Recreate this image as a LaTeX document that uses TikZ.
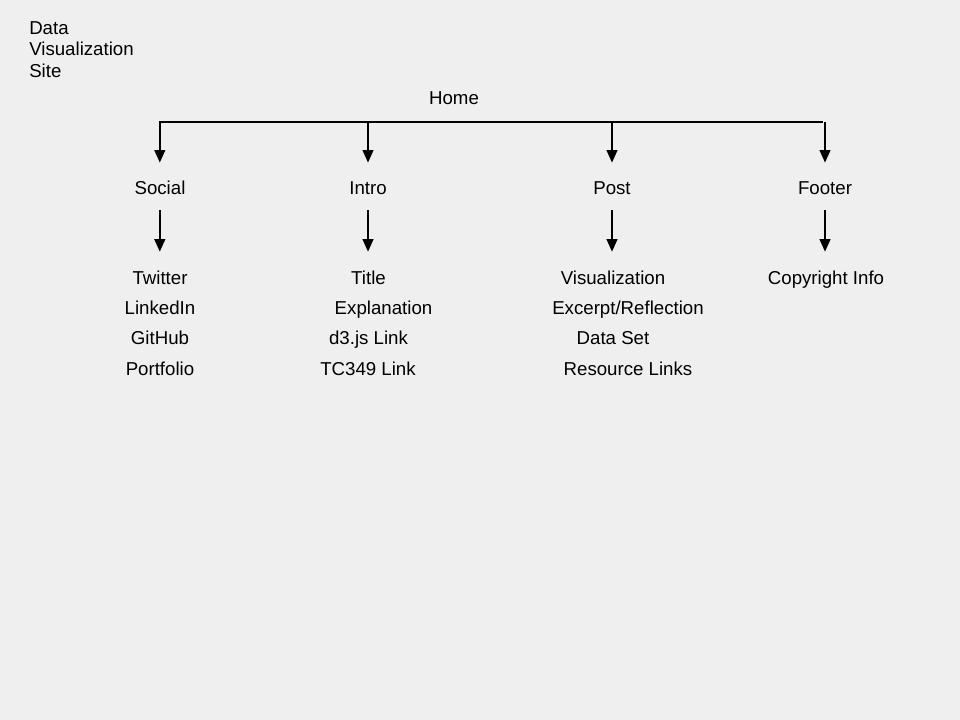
\documentclass[tikz,border=0pt]{standalone}
\usepackage{fontspec}
\setmainfont{Liberation Sans}
\usetikzlibrary{arrows.meta}
\definecolor{bg}{RGB}{239,239,239}
\begin{document}
\begin{tikzpicture}[x=0.75pt,y=-0.75pt,
  lbl/.style={font=\fontsize{14pt}{16.2pt}\selectfont, text height=10pt, text depth=3pt, inner sep=0pt, anchor=base},
  arr/.style={line width=1.6pt, -{Triangle[length=9.5pt,width=8pt]}},
  barline/.style={line width=1.6pt}]
\fill[bg] (0,0) rectangle (960,720);
\useasboundingbox (0,0) rectangle (960,720);
% title
\node[lbl, anchor=north west, align=left, text height=, text depth=] (site) at (29,21) {Data\\Visualization\\Site};
\node[lbl] (home) at (454,104.7) {Home};
% bar
\coordinate (barL) at (159,122);
\coordinate (barR) at (823,122);
\coordinate (b1) at (159.8,122);
\coordinate (b2) at (368,122);
\coordinate (b3) at (612,122);
\coordinate (b4) at (825,122);
\draw[barline] (barL) -- (barR);
% categories
\node[lbl] (social) at (160,194.7) {Social};
\node[lbl] (intro) at (368,194.7) {Intro};
\node[lbl] (post) at (612,194.7) {Post};
\node[lbl] (footer) at (825,194.7) {Footer};
% items
\node[lbl] (twitter) at (160,284.7) {Twitter};
\node[lbl] (linkedin) at (160,314.7) {LinkedIn};
\node[lbl] (github) at (160,344.7) {GitHub};
\node[lbl] (portfolio) at (160,375.2) {Portfolio};
\node[lbl] (title) at (368.5,284.7) {Title};
\node[lbl] (expl) at (383.5,314.7) {Explanation};
\node[lbl] (d3) at (368.5,344.7) {d3.js Link};
\node[lbl] (tc) at (368,375.2) {TC349 Link};
\node[lbl] (vis) at (613,284.7) {Visualization};
\node[lbl] (exc) at (628,314.7) {Excerpt/Reflection};
\node[lbl] (data) at (613,344.7) {Data Set};
\node[lbl] (res) at (628,375.2) {Resource Links};
\node[lbl] (copy) at (826,284.7) {Copyright Info};
% arrows
\foreach \b/\c in {b1/social,b2/intro,b3/post,b4/footer}
  \draw[arr, shorten >=13.8pt] (\b) -- (\b |- \c.north);
\draw[arr, shorten <=8.5pt, shorten >=14.5pt] (b1 |- social.south) -- (b1 |- twitter.north);
\draw[arr, shorten <=8.5pt, shorten >=14.5pt] (intro.south) -- (intro.south |- title.north);
\draw[arr, shorten <=8.5pt, shorten >=14.5pt] (post.south) -- (post.south |- vis.north);
\draw[arr, shorten <=8.5pt, shorten >=14.5pt] (footer.south) -- (footer.south |- copy.north);
\end{tikzpicture}
\end{document}
